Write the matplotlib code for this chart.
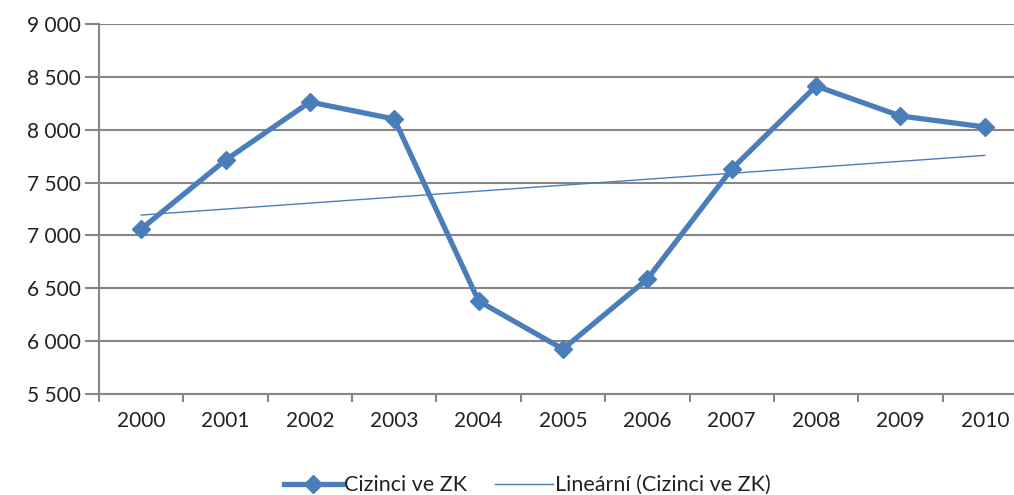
import matplotlib.pyplot as plt
import numpy as np

years = ['2000', '2001', '2002', '2003', '2004', '2005', '2006', '2007', '2008', '2009', '2010']
cizinci = [7061, 7713, 8262, 8101, 6379, 5925, 6588, 7628, 8413, 8130, 8026]
y_ticks = [5500, 6000, 6500, 7000, 7500, 8000, 8500, 9000]

plt.rcParams['font.family'] = ['Lato', 'DejaVu Sans']
blue = '#4A7EBB'
grey = '#868686'

fig = plt.figure(figsize=(10.14, 4.95), dpi=100)
ax = fig.add_axes([99 / 1014, 101 / 495, 928 / 1014, 370 / 495])

x = np.arange(len(years))
ax.plot(x, cizinci, color=blue, lw=3.8, marker='D', ms=9, label='Cizinci ve ZK', zorder=3)

# linear trend (Excel "Lineární")
k, q = np.polyfit(x, cizinci, 1)
ax.plot(x, k * x + q, color=blue, lw=1, label='Lineární (Cizinci ve ZK)', zorder=2)

ax.set_xlim(-0.5, len(years) - 0.5)
ax.set_ylim(5500, 9000)
ax.set_yticks(y_ticks)
ax.set_yticklabels([f'{v:,}'.replace(',', ' ') for v in y_ticks])
ax.set_xticks(x)
ax.set_xticklabels(years)
ax.set_xticks(np.arange(-0.5, len(years)), minor=True)
ax.tick_params(axis='x', which='major', length=0, pad=12, labelsize=15, labelcolor='#222222')
ax.tick_params(axis='x', which='minor', length=6, width=1.5, color=grey)
ax.tick_params(axis='y', length=10, width=1.5, color=grey, labelsize=15, pad=3,
               labelcolor='#222222')

ax.grid(axis='y', color=grey, lw=1.5)
ax.set_axisbelow(True)
for s in ['top', 'right']:
    ax.spines[s].set_visible(False)
for s in ['left', 'bottom']:
    ax.spines[s].set_color(grey)
    ax.spines[s].set_linewidth(1.5)

fig.legend(loc='center', bbox_to_anchor=(0.52, 0.02), ncol=2, frameon=False,
           fontsize=15.5, handlelength=2.7, columnspacing=1.3, handletextpad=0.1,
           labelcolor='#222222')

fig.savefig('out.png', dpi=100)
